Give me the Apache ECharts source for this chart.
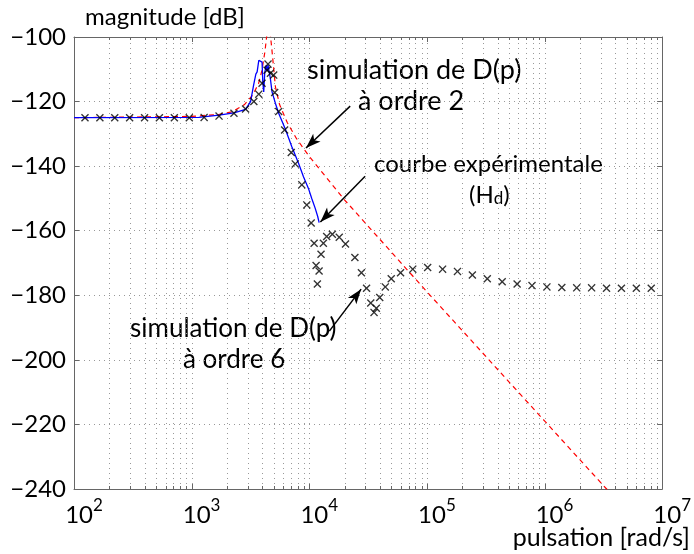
<!DOCTYPE html>
<html><head><meta charset="utf-8">
<script src="https://cdn.jsdelivr.net/npm/echarts@6/dist/echarts.min.js"></script>
<style>html,body{margin:0;padding:0;background:#fff}#c{width:694px;height:554px}</style>
</head><body><div id="c"></div>
<script>
// ---- data ----
const xTickExponents = [2, 3, 4, 5, 6, 7];
const yTicks = [-240, -220, -200, -180, -160, -140, -120, -100];

// red dashed: simulation de D(p) a ordre 2
const redX = [100, 1000, 1700, 2200, 2800, 3300, 3700, 3950, 4200, 4400, 4490, 4600, 4800, 5160, 5600, 6500, 7800, 10000, 20000, 100000, 1000000, 3370000, 10000000];
const redY = [-125, -124.6, -124, -123.2, -121, -118, -114.5, -110.5, -104.5, -98, -94, -97, -103.5, -115.5, -121, -126.5, -131.5, -137, -150.5, -178.9, -218.9, -240, -258.9];

// blue solid: courbe experimentale
const blueX = [100, 1150, 1710, 2290, 2875, 3170, 3380, 3515, 3605, 3725, 3850, 3970, 4025, 4100, 4185, 4295, 4375, 4460, 4675, 4825, 5150, 5495, 6255, 7110, 8105, 8930, 9840, 10500, 11220, 11800, 12130];
const blueY = [-125, -124.9, -124.2, -123.5, -122.4, -120, -114.5, -111.5, -110.8, -107.2, -106.6, -107.8, -113.8, -117, -111, -108.8, -110.5, -108.7, -113, -117, -120.5, -123.6, -128.5, -134, -139.1, -143.3, -146.9, -150, -153, -155.6, -157.5];

// crosses: simulation de D(p) a ordre 6
const crossX = [124, 166, 222, 297, 398, 532, 713, 955, 1277, 1710, 2290, 2875, 3380, 3724, 3970, 4377, 4462, 4677, 4984, 5081, 5495, 6173, 7031, 7600, 8645, 9526, 10380, 11000, 13180, 14060, 15710, 17990, 20330, 12590, 11430, 12120, 11720, 24430, 27760, 30700, 33330, 37170, 35540, 39720, 44290, 49770, 59730, 75860, 101500, 136000, 182000, 243600, 326200, 436700, 584700, 782800, 1048000, 1403000, 1878000, 2514000, 3366000, 4507000, 6034000, 8078000];
const crossY = [-125, -125, -125, -125, -125, -125, -125, -125, -124.9, -124.5, -123.6, -122.3, -120, -117.7, -114.3, -110.3, -108.4, -111.2, -111.8, -117.2, -123.1, -128.8, -135.8, -139.3, -145.8, -152, -157.6, -163.9, -163.9, -161.8, -161.1, -162, -164.1, -167.3, -170.8, -172.5, -176.5, -168.3, -173, -177.8, -182.4, -184, -185.3, -180.7, -177.4, -174.9, -173, -171.9, -171.4, -171.9, -172.6, -173.7, -174.9, -175.8, -176.5, -177, -177.4, -177.6, -177.7, -177.7, -177.8, -177.8, -177.8, -177.8];

// annotation arrows (data coordinates): start -> tip
const arrowStart = [[22280, -121.4], [29850, -143.1], [14810, -191.1]];
const arrowTip = [[9380, -134.4], [12430, -157.3], [27600, -178.1]];

// ---- build ----
const FONT = 'Lato';
const zip = (a, b) => a.map((v, i) => [v, b[i]]);
const gridX = [];
for (let d = xTickExponents[0]; d < xTickExponents[xTickExponents.length - 1]; d++)
  for (let m = 1; m < 10; m++) gridX.push(m * Math.pow(10, d));
gridX.push(Math.pow(10, xTickExponents[xTickExponents.length - 1]));

const yMin = yTicks[0], yMax = yTicks[yTicks.length - 1];
const crossPath = 'path://M0,1.2L1.2,0L5,3.8L8.8,0L10,1.2L6.2,5L10,8.8L8.8,10L5,6.2L1.2,10L0,8.8L3.8,5Z';

const chart = echarts.init(document.getElementById('c'));
chart.setOption({
  animation: false,
  backgroundColor: '#fff',
  grid: { left: 74, top: 37, right: 29, bottom: 65, containLabel: false },
  xAxis: [{
    type: 'log', logBase: 10, min: 100, max: 1e7, position: 'bottom',
    axisLine: { show: true, lineStyle: { color: '#666', width: 1 } },
    axisTick: { show: false },
    splitLine: { show: false },
    axisLabel: {
      margin: 5, color: '#000',
      padding: [0, 0, 0, 20],
      formatter: v => '{b|10}{e|' + Math.round(Math.log10(v)) + '}',
      rich: {
        b: { fontFamily: FONT, fontSize: 24, color: '#000', padding: [9, 0, 0, 0] },
        e: { fontFamily: FONT, fontSize: 17, color: '#000', padding: [0, 0, 10, 0] }
      }
    }
  }, {
    type: 'log', logBase: 10, min: 100, max: 1e7, position: 'top',
    axisLine: { show: true, lineStyle: { color: '#666', width: 1 } },
    axisTick: { show: false }, axisLabel: { show: false }, splitLine: { show: false }
  }],
  yAxis: [{
    type: 'value', min: yMin, max: yMax, interval: 20, position: 'left',
    axisLine: { show: true, lineStyle: { color: '#666', width: 1 } },
    axisTick: { show: true, inside: true, length: 5, lineStyle: { color: '#666' } },
    splitLine: { show: true, lineStyle: { color: '#999', type: [1, 4], width: 1 } },
    axisLabel: {
      margin: 8, color: '#000', fontFamily: FONT, fontSize: 24,
      formatter: v => (v < 0 ? '\u2212' : '') + Math.abs(v)
    }
  }, {
    type: 'value', min: yMin, max: yMax, interval: 20, position: 'right',
    axisLine: { show: true, lineStyle: { color: '#666', width: 1 } },
    axisTick: { show: true, inside: true, length: 5, lineStyle: { color: '#666' } },
    splitLine: { show: false }, axisLabel: { show: false }
  }],
  series: [{
    type: 'custom', xAxisIndex: 0, yAxisIndex: 0, z: 1, silent: true,
    data: gridX.map(v => [v]),
    renderItem: (params, api) => {
      const v = api.value(0);
      const b = api.coord([v, yMin]);
      const t = api.coord([v, yMax]);
      const x = Math.round(b[0]) + 0.5;
      const major = Math.abs(Math.log10(v) - Math.round(Math.log10(v))) < 1e-9;
      const len = major ? 5 : 3;
      const kids = [];
      if (v > 100 && v < 1e7) {
        kids.push({ type: 'line', shape: { x1: x, y1: b[1], x2: x, y2: t[1] },
          style: { stroke: '#999', lineWidth: 1, lineDash: [1, 4] } });
      }
      kids.push({ type: 'line', shape: { x1: x, y1: b[1], x2: x, y2: b[1] - len }, style: { stroke: '#666', lineWidth: 1 } });
      kids.push({ type: 'line', shape: { x1: x, y1: t[1], x2: x, y2: t[1] + len }, style: { stroke: '#666', lineWidth: 1 } });
      return { type: 'group', children: kids };
    }
  }, {
    name: 'ordre 2', type: 'line', z: 3, showSymbol: false, clip: true,
    data: zip(redX, redY),
    lineStyle: { color: '#ff0000', width: 1.2, type: [5, 4] }
  }, {
    name: 'experimentale', type: 'line', z: 4, showSymbol: false, clip: true,
    data: zip(blueX, blueY),
    lineStyle: { color: '#0000ff', width: 1.3 }
  }, {
    name: 'ordre 6', type: 'scatter', z: 5, symbol: crossPath, symbolSize: 8,
    data: zip(crossX, crossY),
    itemStyle: { color: '#000' },
    markLine: {
      silent: true, animation: false,
      symbol: ['none', 'arrow'], symbolSize: [8, 15],
      label: { show: false },
      lineStyle: { color: '#000', width: 1.5, type: 'solid' },
      data: arrowStart.map((s, i) => [{ coord: s }, { coord: arrowTip[i] }])
    }
  }],
  graphic: [
    { type: 'text', left: 85, top: 5, style: { text: 'magnitude [dB]', fontFamily: FONT, fontSize: 24, fill: '#000' } },
    { type: 'text', left: 307, top: 57, style: { text: 'simulation de D(p)', fontFamily: FONT, fontSize: 27, fill: '#000' } },
    { type: 'text', left: 358, top: 88, style: { text: '\u00e0 ordre 2', fontFamily: FONT, fontSize: 27, fill: '#000' } },
    { type: 'text', left: 374, top: 152, style: { text: 'courbe exp\u00e9rimentale', fontFamily: FONT, fontSize: 24, fill: '#000' } },
    { type: 'text', left: 469, top: 183, style: { text: '(H{s|d})', fontFamily: FONT, fontSize: 24, fill: '#000',
        rich: { s: { fontFamily: FONT, fontSize: 17, padding: [8, 0, 0, 0] } } } },
    { type: 'text', left: 130, top: 316, style: { text: 'simulation de D(p)', fontFamily: FONT, fontSize: 26, fill: '#000' } },
    { type: 'text', left: 183, top: 347, style: { text: '\u00e0 ordre 6', fontFamily: FONT, fontSize: 26, fill: '#000' } },
    { type: 'text', right: 4, top: 525, style: { text: 'pulsation [rad/s]', fontFamily: FONT, fontSize: 25, fill: '#000' } }
  ]
});
</script></body></html>
